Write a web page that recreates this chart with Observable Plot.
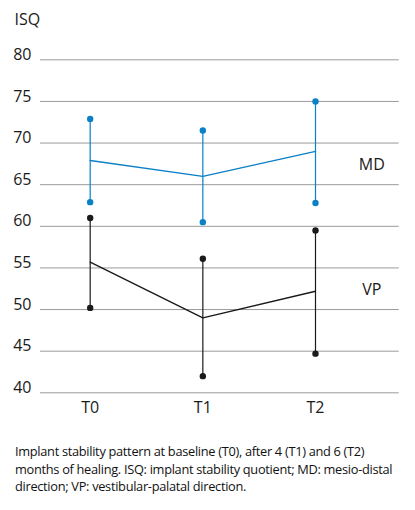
<!DOCTYPE html>
<html>
<head>
<meta charset="utf-8">
<script src="https://cdn.jsdelivr.net/npm/d3@7"></script>
<script src="https://cdn.jsdelivr.net/npm/@observablehq/plot@0.6"></script>
<style>
  body { margin: 0; background: #fff; font-family: "Open Sans", sans-serif; }
  #chart svg { display: block; }
  #caption { margin: 18px 0 0 15px; font-size: 12.8px; line-height: 17.6px; color: #111; white-space: nowrap; letter-spacing: -0.3px; }
</style>
</head>
<body>
<div id="chart"></div>
<div id="caption">Implant stability pattern at baseline (T0), after 4 (T1) and 6 (T2)<br>months of healing. ISQ: implant stability quotient; MD: mesio-distal<br>direction; VP: vestibular-palatal direction.</div>
<script>
const timepoints = ["T0", "T1", "T2"];
const yTicks = [40, 45, 50, 55, 60, 65, 70, 75, 80];

const mdMean = [67.9, 66.0, 69.0];
const mdHigh = [72.9, 71.5, 75.0];
const mdLow  = [62.9, 60.5, 62.8];

const vpMean = [55.7, 49.0, 52.2];
const vpHigh = [61.0, 56.1, 59.5];
const vpLow  = [50.2, 42.0, 44.7];

const seriesNames = ["MD", "VP"];
const seriesColors = ["#0a80c6", "#1a1a1a"];

const rows = [];
[[mdMean, mdHigh, mdLow], [vpMean, vpHigh, vpLow]].forEach(([m, h, l], s) => {
  timepoints.forEach((t, i) => rows.push({series: seriesNames[s], i, t, mean: m[i], high: h[i], low: l[i]}));
});

const labelRows = [
  {series: "MD", i: 2.5, y: 67.4},
  {series: "VP", i: 2.5, y: 52.4}
];

const chart = Plot.plot({
  width: 415,
  height: 425,
  marginLeft: 40,
  marginRight: 16.3,
  marginTop: 59.3,
  marginBottom: 32.7,
  style: {fontFamily: "Open Sans, sans-serif", color: "#1a1a1a"},
  x: {domain: [-0.441, 2.743], axis: null},
  y: {domain: [40, 80], axis: null},
  color: {domain: seriesNames, range: seriesColors},
  marks: [
    Plot.ruleY(yTicks, {stroke: "#9a9a9a", strokeWidth: 1}),
    Plot.axisY({ticks: yTicks, tickSize: 0, tickPadding: 9, dy: -5, fontSize: 16, textAnchor: "end", label: null, fill: "#1a1a1a"}),
    Plot.axisX({ticks: [0, 1, 2], tickFormat: i => timepoints[i], tickSize: 0, tickPadding: 9, fontSize: 16, label: null, fill: "#1a1a1a"}),
    Plot.ruleX(rows, {x: "i", y1: "low", y2: "high", stroke: "series", strokeWidth: 1.2}),
    Plot.line(rows, {x: "i", y: "mean", z: "series", stroke: "series", strokeWidth: 1.4}),
    Plot.dot(rows, {x: "i", y: "high", fill: "series", r: 3.2}),
    Plot.dot(rows, {x: "i", y: "low", fill: "series", r: 3.2}),
    Plot.text(labelRows, {x: "i", y: "y", text: "series", fontSize: 16, fill: "#1a1a1a"}),
    Plot.text(["ISQ"], {frameAnchor: "top-left", dx: -26, dy: -46, textAnchor: "start", fontSize: 16, fill: "#1a1a1a"})
  ]
});
document.getElementById("chart").append(chart);
</script>
</body>
</html>
